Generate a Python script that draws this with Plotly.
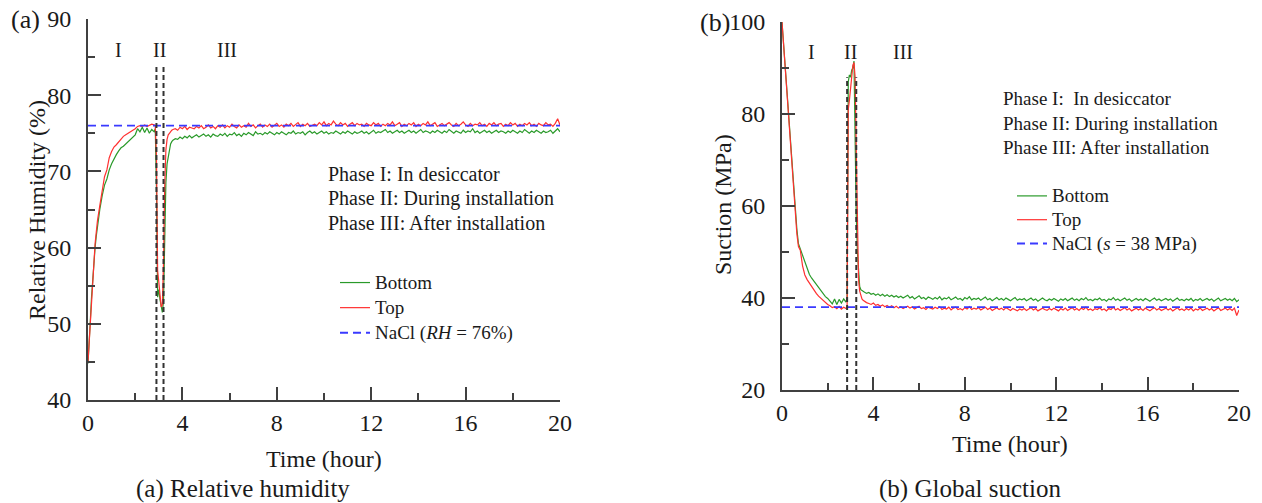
import numpy as np
import plotly.graph_objects as go

# ---------------- data ----------------
t_rh_early = [0, 0.05, 0.1, 0.15, 0.2, 0.25, 0.3, 0.35, 0.4,
              0.5, 0.6, 0.7, 0.8, 0.9, 1.0, 1.1, 1.2, 1.3, 1.4, 1.5, 1.6, 1.7, 1.8, 1.9, 2.0,
              2.1, 2.2, 2.3, 2.4, 2.5, 2.6, 2.7, 2.8, 2.85,
              2.9, 2.95, 3.0, 3.05, 3.1, 3.15, 3.2, 3.25, 3.3, 3.35, 3.4, 3.45, 3.5, 3.55]
rh_top_early = [45.0, 47.5, 51.0, 54.0, 56.5, 58.5, 60.5, 62.0, 63.5,
                65.5, 67.5, 69.3, 70.2, 71.8, 72.6, 73.2, 73.5, 73.9, 74.3,
                74.6, 74.8, 75.0, 75.1, 75.3, 75.6, 75.9, 76.0, 75.9, 76.1,
                75.9, 76.0, 76.2, 76.1, 76.0,
                72.0, 57.0, 55.5, 54.0, 52.2, 52.5, 58.0, 68.0, 72.8, 74.2, 74.8, 75.0, 75.3, 75.4]
rh_bot_early = [44.8, 47.0, 50.5, 53.5, 56.0, 58.0, 60.0, 61.5, 62.8,
                65.0, 66.8, 68.2, 69.0, 70.2, 71.0, 71.7, 72.2, 72.7, 73.1,
                73.3, 73.6, 73.9, 74.1, 74.4, 74.8, 75.6, 75.2, 75.8, 75.1,
                75.7, 75.0, 75.5, 75.2, 75.6,
                68.0, 53.5, 54.5, 53.2, 52.5, 51.5, 53.0, 62.0, 68.5, 71.0, 72.0, 73.0, 73.6, 73.9]

t_s_early = [0, 0.1, 0.2, 0.3, 0.4, 0.5, 0.57, 0.65, 0.72, 0.8,
             0.9, 1.0, 1.1, 1.2, 1.3, 1.4, 1.5, 1.6, 1.7, 1.8, 1.9, 2.0,
             2.1, 2.2, 2.3, 2.4, 2.5, 2.6, 2.7, 2.8, 2.85,
             2.9, 2.95, 3.0, 3.05, 3.1, 3.15, 3.2, 3.25, 3.3, 3.35, 3.4, 3.45, 3.5, 3.55]
s_top_early = [100, 93, 85.5, 78, 70.5, 63, 58.8, 54, 51.2, 50.4,
               47.0, 45.0, 44.0, 43.2, 42.5, 41.7, 41.0, 40.4, 39.9, 39.4, 39.0, 38.6,
               38.3, 37.9, 38.1, 37.7, 38.2, 37.6, 38.0, 37.7, 38.0,
               81, 83, 86, 88.5, 90.5, 91.2, 88, 72, 55, 44, 41.5, 40.5, 39.8, 39.5]
s_bot_early = [100, 93, 85.5, 78, 71, 64, 59.5, 55, 51.8, 50.6,
               49.3, 47.6, 46.3, 45.1, 44.3, 43.6, 43.0, 42.2, 41.5, 41.0, 40.3, 39.9,
               39.4, 38.7, 39.8, 38.6, 39.7, 38.9, 39.8, 39.1, 40.0,
               87, 88.5, 88, 89.5, 90, 91.5, 67, 58, 50, 45, 42.5, 41.8, 41.6, 41.3]

# tail sampled every 0.1 h from 3.6 h to 20 h
t_tail = list(np.round(np.arange(3.6, 20.0001, 0.1), 2))

rh_top_tail = [
    75.5, 75.6, 75.4, 75.8, 75.6, 75.9, 75.5, 75.8, 75.7, 75.6,
    75.9, 75.7, 76.0, 75.6, 75.8, 76.1, 75.7, 75.9, 75.6, 76.0,
    75.8, 76.1, 75.7, 76.0, 75.8, 76.2, 75.9, 75.7, 76.1, 75.8,
    76.0, 75.8, 76.3, 75.9, 76.1, 75.7, 76.0, 76.2, 75.8, 76.1,
    75.9, 76.2, 75.8, 76.0, 76.3, 75.9, 76.1, 75.8, 76.2, 76.0,
    76.3, 75.9, 76.1, 76.4, 75.9, 76.2, 76.0, 76.3, 75.9, 76.1,
    76.2, 76.0, 76.4, 76.1, 76.5, 76.0, 76.3, 76.1, 76.6, 76.2,
    76.0, 76.4, 76.1, 76.3, 75.9, 76.2, 76.4, 76.0, 76.3, 76.1,
    76.2, 75.9, 76.3, 76.1, 76.0, 76.4, 76.1, 76.3, 75.9, 76.2,
    76.0, 76.3, 76.1, 76.5, 76.0, 76.2, 76.4, 75.9, 76.2, 76.0,
    76.3, 76.1, 76.4, 75.9, 76.2, 76.0, 76.3, 76.1, 76.5, 76.0,
    76.2, 76.4, 75.9, 76.1, 76.3, 76.0, 76.2, 76.4, 76.1, 75.9,
    76.3, 76.0, 76.2, 76.5, 76.1, 75.9, 76.3, 76.0, 76.2, 76.1,
    76.4, 76.0, 76.2, 75.9, 76.3, 76.1, 76.4, 76.0, 76.2, 76.3,
    75.9, 76.2, 76.0, 76.4, 76.1, 76.3, 75.9, 76.2, 76.0, 76.3,
    76.1, 76.4, 76.0, 76.2, 75.9, 76.3, 76.1, 76.0, 76.4, 76.1,
    76.2, 75.9, 76.3, 76.9, 76.1]
rh_bot_tail = [
    74.1, 74.3, 74.2, 74.5, 74.3, 74.6, 74.4, 74.7, 74.4, 74.6,
    74.8, 74.5, 74.7, 74.9, 74.6, 74.8, 74.5, 74.9, 74.7, 74.6,
    74.9, 74.7, 75.0, 74.6, 74.9, 74.8, 75.1, 74.7, 74.9, 74.6,
    75.0, 74.8, 75.1, 74.9, 74.7, 75.2, 74.9, 75.0, 74.8, 75.1,
    74.9, 75.2, 75.0, 74.8, 75.1, 74.9, 75.2, 75.0, 74.8, 75.1,
    75.0, 75.3, 74.9, 75.1, 75.0, 75.2, 74.8, 75.1, 75.3, 75.0,
    75.2, 74.9, 75.1, 75.3, 75.0, 75.2, 74.9, 75.1, 75.0, 75.3,
    75.1, 74.9, 75.2, 75.0, 75.3, 75.1, 74.9, 75.2, 75.0, 75.1,
    75.3, 75.0, 75.2, 74.9, 75.1, 75.4, 75.0, 75.2, 75.1, 75.3,
    75.5, 75.1, 75.3, 75.0, 75.2, 75.4, 75.1, 75.3, 75.0, 75.2,
    75.4, 75.1, 75.3, 75.0, 75.2, 75.5, 75.1, 75.3, 75.2, 75.0,
    75.3, 75.1, 75.4, 75.2, 75.0, 75.3, 75.1, 75.5, 75.2, 75.0,
    75.3, 75.2, 75.0, 75.4, 75.1, 75.3, 75.2, 75.6, 75.1, 75.3,
    75.0, 75.2, 75.4, 75.1, 75.3, 75.0, 75.2, 75.4, 75.1, 75.3,
    75.2, 75.0, 75.3, 75.1, 75.4, 75.2, 75.0, 75.3, 75.1, 75.5,
    75.2, 75.0, 75.3, 75.1, 75.4, 75.2, 75.0, 75.3, 75.1, 75.2,
    75.4, 75.0, 75.3, 75.6, 75.2]
s_bot_tail = [
    41.3, 41.0, 41.2, 40.8, 41.0, 40.6, 40.9, 40.5, 40.8, 40.4,
    40.7, 40.3, 40.6, 40.2, 40.5, 40.1, 40.4, 40.0, 40.3, 40.6,
    40.0, 40.3, 39.8, 40.2, 40.5, 39.9, 40.1, 39.7, 40.2, 40.0,
    39.7, 40.1, 39.8, 40.3, 39.6, 40.0, 39.8, 40.2, 39.6, 39.9,
    40.2, 39.7, 39.9, 39.5, 40.1, 39.8, 40.3, 39.6, 39.9, 39.7,
    40.0, 39.5, 39.8, 40.2, 39.6, 39.9, 39.4, 39.8, 40.1, 39.6,
    39.9, 39.5, 40.0, 39.7, 39.4, 39.8, 40.1, 39.5, 39.8, 39.6,
    39.9, 39.4, 39.7, 40.0, 39.5, 39.8, 39.3, 39.7, 40.0, 39.6,
    39.4, 39.8, 39.5, 39.9, 39.6, 39.3, 39.8, 39.5, 39.9, 39.4,
    39.7, 40.0, 39.5, 39.8, 39.4, 39.9, 39.6, 40.1, 39.5, 39.7,
    39.4, 39.8, 39.6, 40.0, 39.5, 39.7, 39.3, 39.8, 39.6, 40.1,
    39.5, 39.8, 39.4, 39.7, 40.0, 39.5, 39.8, 39.3, 39.7, 39.9,
    39.5, 39.8, 39.4, 39.9, 39.6, 39.3, 39.7, 40.0, 39.5, 39.8,
    39.4, 39.7, 39.9, 39.5, 39.8, 39.3, 39.6, 40.0, 39.5, 39.7,
    39.4, 39.8, 39.5, 39.9, 39.3, 39.7, 39.5, 39.9, 39.4, 39.6,
    39.9, 39.5, 39.8, 39.3, 39.7, 40.0, 39.4, 39.6, 39.9, 39.5,
    39.8, 39.4, 39.9, 39.2, 39.6]
s_top_tail = [
    39.3, 39.0, 38.8, 38.6, 38.9, 38.4, 38.6, 38.2, 38.5, 38.1,
    38.4, 38.0, 38.3, 37.9, 38.2, 37.8, 38.1, 37.7, 38.0, 38.2,
    37.8, 38.1, 37.6, 37.9, 38.2, 37.7, 37.9, 37.5, 38.0, 37.8,
    37.6, 38.0, 37.7, 38.1, 37.5, 37.8, 37.6, 38.0, 37.4, 37.8,
    38.0, 37.5, 37.7, 37.4, 37.9, 37.6, 38.1, 37.5, 37.8, 37.6,
    37.9, 37.4, 37.7, 38.0, 37.5, 37.8, 37.3, 37.7, 37.9, 37.5,
    37.8, 37.4, 37.9, 37.6, 37.3, 37.7, 37.5, 37.2, 37.6, 37.4,
    37.7, 37.3, 37.6, 37.9, 37.4, 37.7, 37.2, 37.6, 37.8, 37.5,
    37.3, 37.7, 37.4, 37.8, 37.5, 37.2, 37.7, 37.4, 37.8, 37.3,
    37.6, 37.9, 37.4, 37.7, 37.3, 37.8, 37.5, 38.0, 37.4, 37.6,
    37.3, 37.7, 37.5, 37.9, 37.4, 37.6, 37.2, 37.7, 37.5, 38.0,
    37.4, 37.7, 37.3, 37.6, 37.9, 37.4, 37.7, 37.2, 37.6, 37.8,
    37.4, 37.7, 37.3, 37.8, 37.5, 37.2, 37.6, 37.9, 37.4, 37.7,
    37.3, 37.6, 37.8, 37.4, 37.7, 37.2, 37.5, 37.9, 37.4, 37.6,
    37.3, 37.7, 37.4, 37.8, 37.2, 37.6, 37.4, 37.8, 37.3, 37.5,
    37.8, 37.4, 37.7, 37.2, 37.6, 37.9, 37.3, 37.5, 37.8, 37.4,
    37.7, 37.3, 37.8, 36.2, 37.4]

nacl_rh = 76
nacl_s = 38
phase_bounds_a = [2.9, 3.2]
phase_bounds_b = [2.85, 3.25]
x_ticks = [0, 4, 8, 12, 16, 20]

t_rh = t_rh_early + t_tail
rh_top = rh_top_early + rh_top_tail
rh_bot = rh_bot_early + rh_bot_tail
t_s = t_s_early + t_tail
s_top = s_top_early + s_top_tail
s_bot = s_bot_early + s_bot_tail

# ---------------- figure ----------------
W, H = 1262, 503
FONT = "Liberation Serif, Times New Roman, serif"
AX = "#404040"
GREEN = "#2a9a2a"
RED = "#ff3030"
BLUE = "#3a3aff"

def px(x):
    return x / W

def py(y):
    return 1 - y / H

def lg(name, size):
    return '<span style="font-size:%dpx">%s</span>' % (size, name)

fig = go.Figure()

# panel (a)
fig.add_trace(go.Scatter(x=t_rh, y=rh_bot, mode="lines", name=lg("Bottom", 19),
                         line=dict(color=GREEN, width=1.2), legend="legend"))
fig.add_trace(go.Scatter(x=t_rh, y=rh_top, mode="lines", name=lg("Top", 19),
                         line=dict(color=RED, width=1.2), legend="legend"))
fig.add_trace(go.Scatter(x=[0, 20], y=[nacl_rh, nacl_rh], mode="lines",
                         name=lg("NaCl (<i>RH</i> = 76%)", 19),
                         line=dict(color=BLUE, width=1.8, dash="8px,5px"), legend="legend"))
for xb in phase_bounds_a:
    fig.add_trace(go.Scatter(x=[xb, xb], y=[40, 84], mode="lines", showlegend=False,
                             line=dict(color="#333333", width=2, dash="5px,3px")))

# panel (b)
fig.add_trace(go.Scatter(x=t_s, y=s_bot, mode="lines", name=lg("Bottom", 19), xaxis="x2", yaxis="y2",
                         line=dict(color=GREEN, width=1.2), legend="legend2"))
fig.add_trace(go.Scatter(x=t_s, y=s_top, mode="lines", name=lg("Top", 19), xaxis="x2", yaxis="y2",
                         line=dict(color=RED, width=1.2), legend="legend2"))
fig.add_trace(go.Scatter(x=[0, 20], y=[nacl_s, nacl_s], mode="lines", xaxis="x2", yaxis="y2",
                         name=lg("NaCl (<i>s</i> = 38 MPa)", 19),
                         line=dict(color=BLUE, width=1.8, dash="8px,5px"), legend="legend2"))
for xb in phase_bounds_b:
    fig.add_trace(go.Scatter(x=[xb, xb], y=[20, 88], mode="lines", showlegend=False,
                             xaxis="x2", yaxis="y2",
                             line=dict(color="#333333", width=2, dash="5px,3px")))

axis_common = dict(showline=True, linecolor=AX, linewidth=2, ticks="inside", ticklen=13,
                   tickwidth=2, tickcolor=AX, showgrid=False, zeroline=False, mirror=False,
                   automargin=False, ticklabeloverflow="allow",
                   tickfont=dict(family=FONT, size=24, color="#1a1a1a"))
minor_x = dict(ticks="inside", ticklen=7, tickwidth=2, tickcolor=AX, dtick=2)

fig.update_layout(
    width=W, height=H, margin=dict(l=0, r=0, t=0, b=0, autoexpand=False),
    paper_bgcolor="white", plot_bgcolor="white",
    xaxis=dict(domain=[px(88), px(560)], range=[0, 20], tickvals=x_ticks, minor=minor_x,
               anchor="y", ticklabelstandoff=0, **axis_common),
    yaxis=dict(domain=[py(400), py(19)], range=[40, 90], dtick=10,
               minor=dict(ticks="inside", ticklen=7, tickwidth=2, tickcolor=AX, dtick=5),
               anchor="x", ticklabelstandoff=10, **axis_common),
    xaxis2=dict(domain=[px(782), px(1239)], range=[0, 20], tickvals=x_ticks, minor=minor_x,
                anchor="y2", ticklabelstandoff=0, **axis_common),
    yaxis2=dict(domain=[py(390), py(22)], range=[20, 100], dtick=20,
                minor=dict(ticks="inside", ticklen=7, tickwidth=2, tickcolor=AX, dtick=10),
                anchor="x2", ticklabelstandoff=10, **axis_common),
    legend=dict(x=px(335), y=py(265), xanchor="left", yanchor="top",
                font=dict(family=FONT, size=17, color="#1a1a1a"),
                bgcolor="rgba(0,0,0,0)", traceorder="normal", itemwidth=30),
    legend2=dict(x=px(1012), y=py(179), xanchor="left", yanchor="top",
                 font=dict(family=FONT, size=16, color="#1a1a1a"),
                 bgcolor="rgba(0,0,0,0)", traceorder="normal", itemwidth=30),
    showlegend=True,
)

TXT = dict(family=FONT, color="#1a1a1a")
ann = []

def add_text(text, x, y, size, xanchor="center", angle=0, xref="paper", yref="paper"):
    ann.append(dict(text=text, x=x, y=y, xref=xref, yref=yref, showarrow=False,
                    xanchor=xanchor, yanchor="middle", textangle=angle,
                    font=dict(size=size, **TXT)))

# phase texts
for i, s in enumerate(["Phase I: In desiccator", "Phase II: During installation",
                       "Phase III: After installation"]):
    add_text(s, px(326), py(174 + 24.5 * i), 20, xanchor="left")
for i, s in enumerate(["Phase I:\u00a0 In desiccator", "Phase II: During installation",
                       "Phase III: After installation"]):
    add_text(s, px(1001), py(99 + 24 * i), 19, xanchor="left")

# roman numerals
for lab, xv in zip(["I", "II", "III"], [1.3, 3.05, 5.9]):
    add_text(lab, xv, 85.9, 20, xref="x", yref="y")
for lab, xv in zip(["I", "II", "III"], [1.3, 3.0, 5.3]):
    add_text(lab, xv, 93.5, 20, xref="x2", yref="y2")

# axis titles
add_text("Time (hour)", px(324), py(459), 24)
add_text("Time (hour)", px(1010), py(444), 24)
add_text("Relative Humidity (%)", px(37), py(210), 24, angle=-90)
add_text("Suction (MPa)", px(723), py(205), 24, angle=-90)

# panel labels & captions
add_text("(a)", px(25), py(20), 26)
add_text("(b)", px(715), py(22), 26)
add_text("(a) Relative humidity", px(243), py(489), 25)
add_text("(b) Global suction", px(970), py(489), 25)

fig.update_layout(annotations=ann)
fig.write_html(
    "out.html",
    config={"displayModeBar": False},
    post_script="document.body.style.margin='0px';document.body.style.overflow='hidden';",
)
